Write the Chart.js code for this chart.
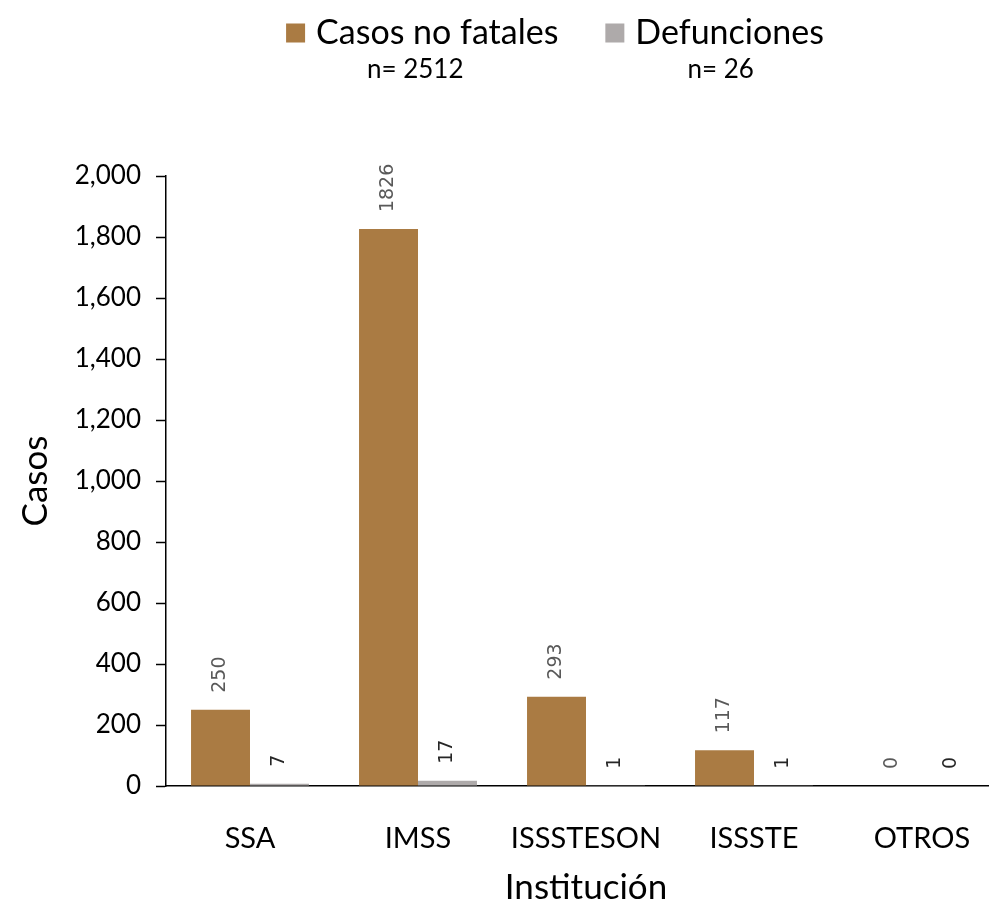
<!DOCTYPE html>
<html><head><meta charset="utf-8">
<script src="https://cdn.jsdelivr.net/npm/chart.js@4/dist/chart.umd.min.js"></script>
<style>
html,body{margin:0;padding:0;overflow:hidden;background:#fff;width:989px;height:904px}
#wrap{position:absolute;left:0;top:0;width:1010px;height:904px}
</style>
</head><body><div id="wrap"><canvas id="c" width="1010" height="904"></canvas></div>
<script>
const categories = ['SSA', 'IMSS', 'ISSSTESON', 'ISSSTE', 'OTROS'];
const seriesNames = ['Casos no fatales', 'Defunciones'];
const casosNoFatales = [250, 1826, 293, 117, 0];
const defunciones = [7, 17, 1, 1, 0];
const seriesTotals = ['n= 2512', 'n= 26'];
const yTickValues = [0, 200, 400, 600, 800, 1000, 1200, 1400, 1600, 1800, 2000];

const COLORS = ['#AA7B43', '#AEAAAA'];
const LABEL_COLORS = ['#595959', '#262626'];
const FONT = 'Lato, "Open Sans", sans-serif';
const TOTAL_OFFSETS = [-7, 6];

const legendPlugin = {
  id: 'customLegend',
  afterDraw(chart) {
    const ctx = chart.ctx;
    ctx.save();
    const box = 19, gap = 11, itemGap = 47, centerX = 555, y = 33, ny = 70;
    ctx.font = '34px ' + FONT;
    const widths = chart.data.datasets.map(d => box + gap + ctx.measureText(d.label).width);
    const total = widths.reduce((a, b) => a + b, 0) + itemGap * (widths.length - 1);
    let x = centerX - total / 2;
    chart.data.datasets.forEach((d, i) => {
      ctx.fillStyle = d.backgroundColor;
      ctx.fillRect(x, y - box / 2, box, box);
      ctx.fillStyle = '#000';
      ctx.font = '34px ' + FONT;
      ctx.textAlign = 'left';
      ctx.textBaseline = 'middle';
      ctx.fillText(d.label, x + box + gap, y);
      ctx.font = '26px ' + FONT;
      ctx.textAlign = 'center';
      ctx.fillText(seriesTotals[i], x + widths[i] / 2 + TOTAL_OFFSETS[i], ny);
      x += widths[i] + itemGap;
    });
    ctx.restore();
  }
};

const dataLabelPlugin = {
  id: 'barLabels',
  afterDatasetsDraw(chart) {
    const ctx = chart.ctx;
    ctx.save();
    ctx.font = '19px "DejaVu Sans", sans-serif';
    chart.data.datasets.forEach((ds, di) => {
      const meta = chart.getDatasetMeta(di);
      meta.data.forEach((bar, i) => {
        ctx.save();
        ctx.translate(bar.x, bar.y - 17);
        ctx.rotate(-Math.PI / 2);
        ctx.textAlign = 'left';
        ctx.textBaseline = 'middle';
        ctx.fillStyle = LABEL_COLORS[di];
        ctx.fillText(String(ds.data[i]), 0, 0);
        ctx.restore();
      });
    });
    ctx.restore();
  }
};

new Chart(document.getElementById('c'), {
  type: 'bar',
  data: {
    labels: categories,
    datasets: [
      { label: seriesNames[0], data: casosNoFatales, backgroundColor: COLORS[0], categoryPercentage: 0.702, barPercentage: 1 },
      { label: seriesNames[1], data: defunciones, backgroundColor: COLORS[1], categoryPercentage: 0.702, barPercentage: 1 }
    ]
  },
  options: {
    responsive: false,
    animation: false,
    devicePixelRatio: 1,
    layout: { padding: { top: 176, right: 4, left: 0, bottom: 0 } },
    plugins: { legend: { display: false }, tooltip: { enabled: false } },
    scales: {
      x: {
        grid: { display: false },
        border: { display: true, color: '#000', width: 1.5 },
        ticks: { color: '#000', font: { family: FONT, size: 29 }, padding: 27 },
        title: { display: true, text: 'Institución', color: '#000', font: { family: FONT, size: 35, lineHeight: 1.2 }, padding: { top: 0, bottom: -5 } },
        afterFit(s) { s.height = 118; }
      },
      y: {
        min: 0, max: 2000,
        afterBuildTicks(s) { s.ticks = yTickValues.map(v => ({ value: v })); },
        grid: { drawOnChartArea: false, drawTicks: true, tickLength: 10, tickColor: '#000', tickWidth: 1.5 },
        border: { display: true, color: '#000', width: 1.5 },
        ticks: { color: '#000', font: { family: FONT, size: 26 }, padding: 15, callback: v => v.toLocaleString('en-US') },
        title: { display: true, text: 'Casos', color: '#000', font: { family: FONT, size: 35, lineHeight: 1.2 }, padding: { top: 15, bottom: 0 } },
        afterFit(s) { s.width = 166; }
      }
    }
  },
  plugins: [legendPlugin, dataLabelPlugin]
});
</script>
</body></html>
